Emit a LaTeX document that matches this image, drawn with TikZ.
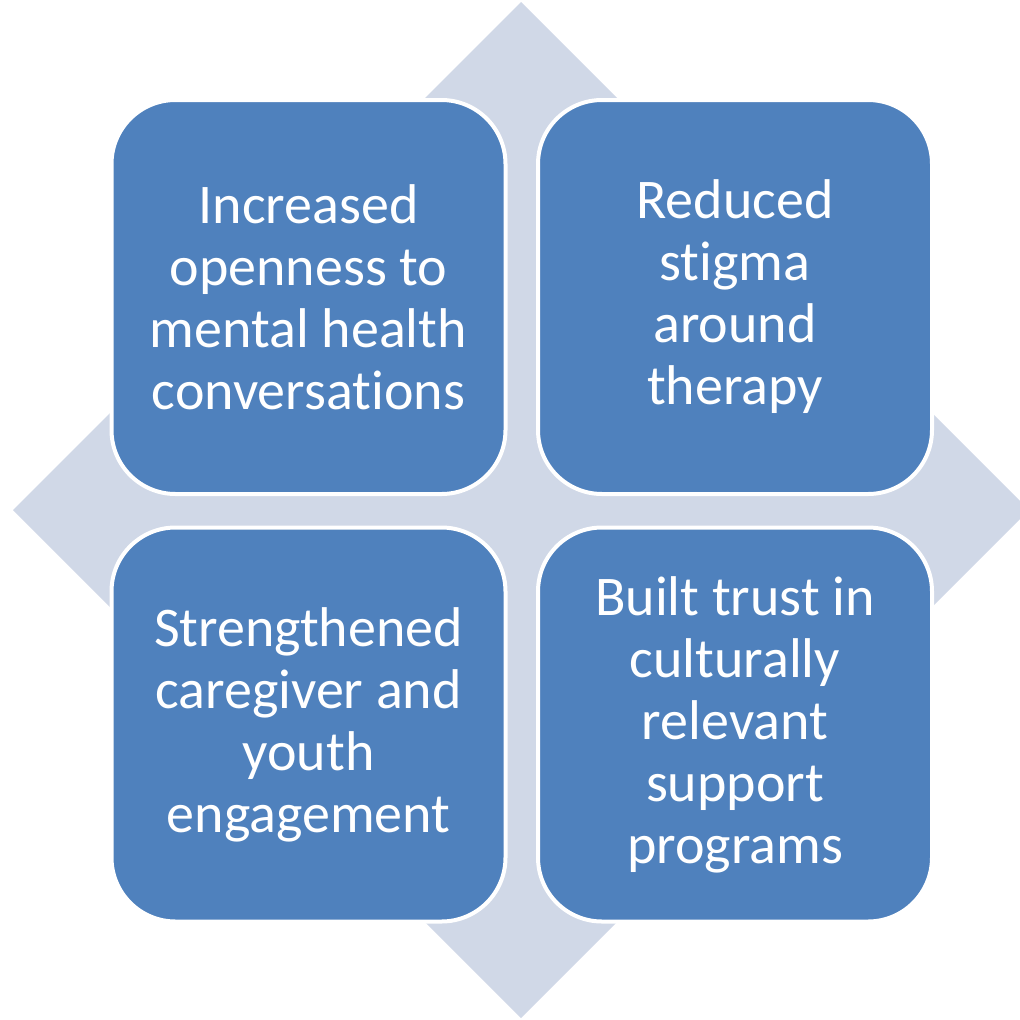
\documentclass[tikz,border=0pt]{standalone}
\usepackage{fontspec}
\setmainfont{Carlito}[Ligatures=NoCommon]
\usetikzlibrary{positioning}

\definecolor{tileblue}{HTML}{4F81BD}
\definecolor{backdrop}{HTML}{D0D8E7}

\begin{document}
\begin{tikzpicture}[x=1pt, y=-1pt,
	every node/.style={font=\fontsize{56}{62}\selectfont, text=white, align=center},
	tile/.style={rectangle, rounded corners=64pt, fill=tileblue, draw=white, line width=4pt,
		minimum width=394pt, minimum height=394pt, inner sep=0pt}]
	
	\useasboundingbox (0,0) rectangle (1020,1020);
	\clip (0,0) rectangle (1020,1020);
	
	% backdrop diamond
	\fill[backdrop] (521,2) -- (1029,510) -- (521,1018) -- (13,510) -- cycle;
	
	\begin{scope}
	\node[tile] (openness) at (308.5,297) {Increased\\openness to\\mental health\\conversations};
	\node[tile] (stigma) at (735,297) {Reduced\\stigma\\around\\therapy};
	\end{scope}
	
	\begin{scope}
	\node[tile] (engage) at (308.5,724.5) {Strengthened\\caregiver and\\youth\\engagement};
	\node[tile] (trust) at (735,724.5) {Built trust in\\culturally\\relevant\\support\\programs};
	\end{scope}
	\end{tikzpicture}
\end{document}
